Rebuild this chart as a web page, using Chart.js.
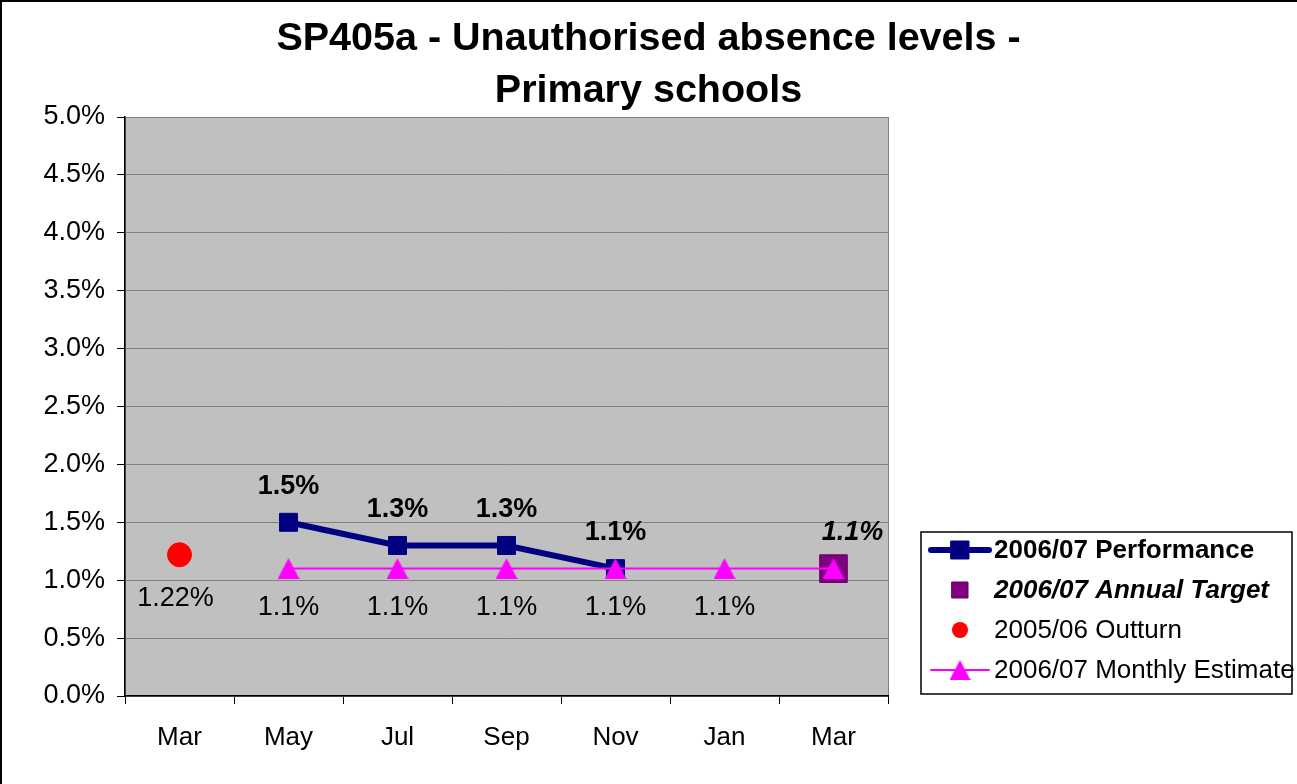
<!DOCTYPE html>
<html>
<head>
<meta charset="utf-8">
<script src="https://cdn.jsdelivr.net/npm/chart.js@4/dist/chart.umd.min.js"></script>
<style>
  html, body { margin: 0; padding: 0; background: #fff; }
  #wrap { width: 1297px; height: 784px; }
</style>
</head>
<body>
<div id="wrap"><canvas id="c" width="1297" height="784"></canvas></div>
<script>
// SP405a - valores
const meses = ['Mar', 'May', 'Jul', 'Sep', 'Nov', 'Jan', 'Mar'];
const desempenho = [null, 1.5, 1.3, 1.3, 1.1, null, null];
const metaAnual = [null, null, null, null, null, null, 1.1];
const resultado0506 = [1.22, null, null, null, null, null, null];
const estimativaMensal = [null, 1.1, 1.1, 1.1, 1.1, 1.1, 1.1];
const ticksY = [0, 0.5, 1, 1.5, 2, 2.5, 3, 3.5, 4, 4.5, 5];

const FONTE = '"Liberation Sans", Arial, sans-serif';

// triângulo no estilo do Excel (centrado na caixa, não no baricentro)
function criaTriangulo(w, h, cor) {
    const cv = document.createElement('canvas');
    cv.width = w;
    cv.height = h;
    const c = cv.getContext('2d');
    c.fillStyle = cor;
    c.beginPath();
    c.moveTo(w / 2, 0);
    c.lineTo(w, h);
    c.lineTo(0, h);
    c.closePath();
    c.fill();
    return cv;
}
const trianguloGrande = criaTriangulo(22, 21, '#FF00FF');
const trianguloLegenda = criaTriangulo(21, 20, '#FF00FF');

// fundo cinza da área do gráfico + borda externa
const fundoPlugin = {
    id: 'fundo',
    beforeDraw(chart) {
        const ctx = chart.ctx;
        const a = chart.chartArea;
        ctx.save();
        ctx.fillStyle = '#fff';
        ctx.fillRect(0, 0, chart.width, chart.height);
        ctx.strokeStyle = '#000';
        ctx.lineWidth = 2;
        ctx.beginPath();
        ctx.moveTo(1, chart.height);
        ctx.lineTo(1, 1);
        ctx.lineTo(chart.width, 1);
        ctx.stroke();
        ctx.fillStyle = '#C0C0C0';
        ctx.fillRect(a.left, a.top, a.right - a.left, a.bottom - a.top);
        ctx.strokeStyle = '#808080';
        ctx.lineWidth = 1;
        ctx.strokeRect(a.left + 0.5, a.top + 0.5, a.right - a.left, a.bottom - a.top);
        ctx.restore();
    }
};

// rótulos de dados usando as posições calculadas pelo Chart.js
const rotulosPlugin = {
    id: 'rotulos',
    afterDatasetsDraw(chart) {
        const ctx = chart.ctx;
        ctx.save();
        ctx.textAlign = 'center';
        ctx.textBaseline = 'middle';
        ctx.fillStyle = '#000';
        chart.data.datasets.forEach((ds, i) => {
            if (!ds.rotulo) return;
            const meta = chart.getDatasetMeta(i);
            ds.data.forEach((v, j) => {
                if (v === null) return;
                if (ds.rotulo.indices && !ds.rotulo.indices.includes(j)) return;
                const p = meta.data[j];
                ctx.font = ds.rotulo.font;
                ctx.fillText(v.toFixed(ds.rotulo.casas) + '%', p.x + ds.rotulo.dx, p.y + ds.rotulo.dy);
            });
        });
        ctx.restore();
    }
};

// legenda com caixa, do jeito do Excel
const legendaPlugin = {
    id: 'legendaExcel',
    afterDraw(chart) {
        const ctx = chart.ctx;
        const ds = chart.data.datasets;
        const x0 = 921, y0 = 532, x1 = 1292, y1 = 694;
        ctx.save();
        ctx.fillStyle = '#fff';
        ctx.fillRect(x0, y0, x1 - x0, y1 - y0);
        ctx.strokeStyle = '#000';
        ctx.lineWidth = 1.5;
        ctx.strokeRect(x0, y0, x1 - x0, y1 - y0);
        const cx = 960;
        const linhas = [550, 590, 630, 670];
        const fontes = ['bold 26px ' + FONTE, 'italic bold 26px ' + FONTE, '26px ' + FONTE, '26px ' + FONTE];
        ds.forEach((d, i) => {
            const y = linhas[i];
            if (d.showLine !== false) {
                ctx.strokeStyle = d.borderColor;
                ctx.lineWidth = d.borderWidth;
                ctx.lineCap = 'round';
                ctx.beginPath();
                ctx.moveTo(931, y);
                ctx.lineTo(989, y);
                ctx.stroke();
            }
            ctx.fillStyle = d.pointBackgroundColor;
            ctx.strokeStyle = d.pointBorderColor;
            ctx.lineWidth = 1;
            if (d.pointStyle === 'rect') {
                const s = i === 0 ? 9 : 8;
                ctx.beginPath();
                ctx.rect(cx - s, y - s, 2 * s, 2 * s);
                ctx.fill();
                ctx.stroke();
            } else if (d.pointStyle === 'circle') {
                ctx.beginPath();
                ctx.arc(cx, y, 8, 0, Math.PI * 2);
                ctx.fill();
            } else {
                ctx.drawImage(trianguloLegenda, cx - 10.5, y - 10);
            }
            ctx.fillStyle = '#000';
            ctx.font = fontes[i];
            ctx.textAlign = 'left';
            ctx.textBaseline = 'middle';
            ctx.fillText(d.label, 994, y + 1);
        });
        ctx.restore();
    }
};

new Chart(document.getElementById('c'), {
    type: 'line',
    data: {
        labels: meses,
        datasets: [
            {
                label: '2006/07 Performance',
                data: desempenho,
                borderColor: '#000080',
                backgroundColor: '#000080',
                borderWidth: 6,
                pointStyle: 'rect',
                pointRadius: 12.7,
                pointBackgroundColor: '#000080',
                pointBorderColor: '#000080',
                pointBorderWidth: 1,
                order: 3,
                rotulo: { font: 'bold 27px ' + FONTE, dx: 0, dy: -36, casas: 1 }
            },
            {
                label: '2006/07 Annual Target',
                data: metaAnual,
                showLine: false,
                borderColor: '#800080',
                pointStyle: 'rect',
                pointRadius: 19.5,
                pointBackgroundColor: '#800080',
                pointBorderColor: '#600060',
                pointBorderWidth: 1,
                order: 2,
                rotulo: { font: 'italic bold 27px ' + FONTE, dx: 19, dy: -36, casas: 1 }
            },
            {
                label: '2005/06 Outturn',
                data: resultado0506,
                showLine: false,
                borderColor: '#FF0000',
                pointStyle: 'circle',
                pointRadius: 12,
                pointBackgroundColor: '#FF0000',
                pointBorderColor: '#FF0000',
                pointBorderWidth: 1,
                order: 1,
                rotulo: { font: '27px ' + FONTE, dx: -4, dy: 44, casas: 2 }
            },
            {
                label: '2006/07 Monthly Estimate',
                data: estimativaMensal,
                borderColor: '#FF00FF',
                borderWidth: 2,
                pointStyle: trianguloGrande,
                pointRadius: 12,
                pointBackgroundColor: '#FF00FF',
                pointBorderColor: '#FF00FF',
                order: 0,
                rotulo: { font: '27px ' + FONTE, dx: 0, dy: 39, casas: 1, indices: [1, 2, 3, 4, 5] }
            }
        ]
    },
    options: {
        responsive: false,
        animation: false,
        layout: { padding: 0 },
        plugins: {
            legend: { display: false },
            tooltip: { enabled: false },
            title: {
                display: true,
                text: ['SP405a - Unauthorised absence levels -', 'Primary schools'],
                color: '#000',
                font: { family: FONTE, size: 39.5, weight: 'bold', lineHeight: 1.3165 },
                padding: { top: 13, bottom: 0 }
            }
        },
        scales: {
            x: {
                offset: true,
                grid: {
                    offset: true,
                    drawOnChartArea: false,
                    drawTicks: true,
                    tickLength: 8,
                    tickColor: '#000',
                    tickWidth: 1
                },
                border: { display: true, color: '#000', width: 1.5 },
                ticks: { color: '#000', font: { family: FONTE, size: 26 }, padding: 18, maxRotation: 0, autoSkip: false },
                afterFit(scale) { scale.height = 88; }
            },
            y: {
                min: 0,
                max: 5,
                afterBuildTicks(scale) { scale.ticks = ticksY.map(v => ({ value: v })); },
                grid: { color: '#808080', lineWidth: 1, tickLength: 8, tickColor: '#000' },
                border: { display: true, color: '#000', width: 1.5 },
                ticks: {
                    color: '#000',
                    font: { family: FONTE, size: 27 },
                    padding: 12,
                    callback: v => v.toFixed(1) + '%'
                },
                afterFit(scale) { scale.width = 125; }
            },
            // eixo vazio à direita: reserva o espaço da legenda sem deslocar o título
            espaco: {
                type: 'linear',
                position: 'right',
                display: true,
                grid: { display: false, drawTicks: false },
                border: { display: false },
                ticks: { display: false },
                afterFit(scale) { scale.width = 409; }
            }
        }
    },
    plugins: [fundoPlugin, rotulosPlugin, legendaPlugin]
});
</script>
</body>
</html>
